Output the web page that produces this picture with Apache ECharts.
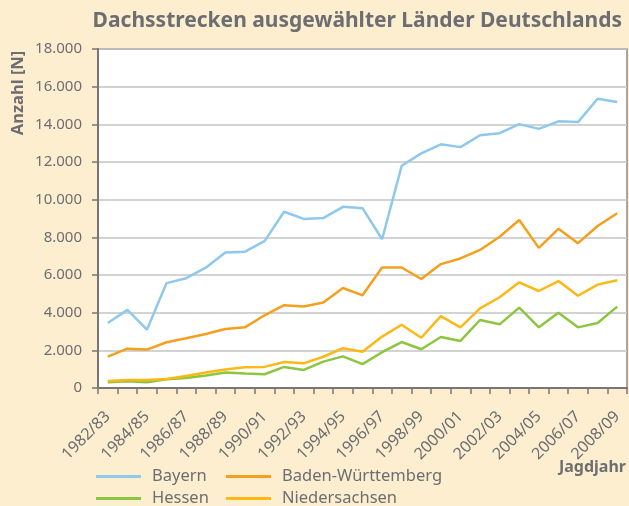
<!DOCTYPE html>
<html>
<head>
<meta charset="utf-8">
<script src="https://cdn.jsdelivr.net/npm/echarts@6/dist/echarts.min.js"></script>
<style>
  html, body { margin: 0; padding: 0; background: #fdeed0; }
  #chart { width: 629px; height: 506px; }
</style>
</head>
<body>
<div id="chart"></div>
<script>
const seasons = ['1982/83', '1983/84', '1984/85', '1985/86', '1986/87', '1987/88', '1988/89', '1989/90', '1990/91',
  '1991/92', '1992/93', '1993/94', '1994/95', '1995/96', '1996/97', '1997/98', '1998/99', '1999/00', '2000/01',
  '2001/02', '2002/03', '2003/04', '2004/05', '2005/06', '2006/07', '2007/08', '2008/09']

const bayern = [3450, 4150, 3100, 5570, 5830, 6390, 7190, 7240, 7800, 9360, 8980, 9020, 9620, 9550, 7900,
  11800, 12460, 12940, 12790, 13420, 13530, 14010, 13760, 14160, 14120, 15360, 15190]
const badenWuerttemberg = [1670, 2090, 2040, 2430, 2640, 2870, 3130, 3220, 3860, 4400, 4330, 4540, 5310, 4920, 6400,
  6400, 5790, 6580, 6880, 7330, 8030, 8920, 7440, 8450, 7690, 8600, 9280]
const hessen = [300, 360, 300, 460, 530, 660, 820, 770, 730, 1120, 960, 1400, 1680, 1270, 1900,
  2440, 2060, 2710, 2500, 3610, 3380, 4270, 3220, 4000, 3220, 3450, 4320]
const niedersachsen = [370, 430, 430, 480, 640, 820, 980, 1100, 1120, 1380, 1310, 1660, 2110, 1930, 2730,
  3360, 2670, 3820, 3220, 4230, 4820, 5610, 5150, 5680, 4900, 5490, 5720]

const textColor = '#6d6e71'
const font = 'Noto Sans'

const chart = echarts.init(document.getElementById('chart'))

// Linie ohne Punkte
const lineSeries = (name, data, color) => ({
  name,
  type: 'line',
  data,
  showSymbol: false,
  symbol: 'none',
  lineStyle: { color, width: 2.5 },
  itemStyle: { color },
  animation: false
})

// ein Legendeneintrag pro Komponente, damit die Position genau stimmt
const legendItem = (name, left, top) => ({
  left,
  top,
  padding: 0,
  icon: 'rect',
  itemWidth: 45,
  itemHeight: 3,
  data: [name],
  textStyle: { color: textColor, fontSize: 16.5, fontFamily: font, padding: [0, 0, 0, 6] }
})

chart.setOption({
  backgroundColor: '#fdeed0',
  animation: false,
  title: {
    text: 'Dachsstrecken ausgewählter Länder Deutschlands',
    right: 7,
    top: 11,
    padding: 0,
    textStyle: { color: textColor, fontSize: 21, fontWeight: 'bold', fontFamily: font }
  },
  grid: {
    left: 98,
    right: 2,
    top: 49,
    bottom: 118,
    show: true,
    backgroundColor: '#ffffff',
    borderColor: '#8a8a8a',
    borderWidth: 1.5
  },
  legend: [
    legendItem('Bayern', 96, 468),
    legendItem('Hessen', 96, 490),
    legendItem('Baden-Württemberg', 226, 468),
    legendItem('Niedersachsen', 226, 490)
  ],
  xAxis: {
    type: 'category',
    data: seasons,
    boundaryGap: true,
    axisLine: { lineStyle: { color: '#777', width: 2 } },
    axisTick: { show: true, interval: 0, length: 6, lineStyle: { color: '#777', width: 1.5 } },
    axisLabel: {
      interval: 1,
      rotate: 45,
      margin: 26,
      color: textColor,
      fontSize: 16,
      fontFamily: font
    }
  },
  yAxis: {
    type: 'value',
    min: 0,
    max: 18000,
    interval: 2000,
    axisLine: { show: true, lineStyle: { color: '#777', width: 2 } },
    axisTick: { show: true, length: 6, lineStyle: { color: '#777', width: 1.5 } },
    splitLine: { lineStyle: { color: '#c4c4c4', width: 1.5 } },
    axisLabel: {
      margin: 16,
      color: textColor,
      fontSize: 15,
      fontFamily: font,
      formatter: v => v === 0 ? '0' : (v / 1000).toFixed(0) + '.000'
    }
  },
  graphic: [
    {
      type: 'text',
      x: 18,
      y: 93,
      rotation: Math.PI / 2,
      style: {
        text: 'Anzahl [N]',
        fill: textColor,
        font: 'bold 16.5px "Noto Sans"',
        textAlign: 'center',
        textVerticalAlign: 'middle'
      }
    },
    {
      type: 'text',
      x: 626,
      y: 467,
      style: {
        text: 'Jagdjahr',
        fill: textColor,
        font: 'bold 16px "Noto Sans"',
        textAlign: 'right',
        textVerticalAlign: 'middle'
      }
    }
  ],
  series: [
    lineSeries('Bayern', bayern, '#8ec8ec'),
    lineSeries('Baden-Württemberg', badenWuerttemberg, '#f5a01d'),
    lineSeries('Hessen', hessen, '#8cc540'),
    lineSeries('Niedersachsen', niedersachsen, '#fdb815')
  ]
})

window.addEventListener('resize', () => chart.resize())
</script>
</body>
</html>
